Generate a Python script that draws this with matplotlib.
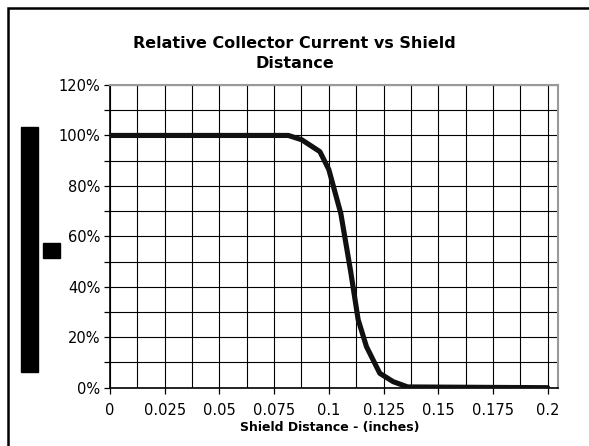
import matplotlib
matplotlib.use('Agg')
import matplotlib.pyplot as plt
from matplotlib.patches import Rectangle
from matplotlib.ticker import MultipleLocator, FuncFormatter

# shield distance (inches) vs relative collector current (%)
distance = [0, 0.0815, 0.0876, 0.0959, 0.1, 0.1055, 0.110, 0.1134, 0.1172,
            0.1233, 0.1294, 0.136, 0.2]
current = [100, 100, 98.3, 93.6, 86.5, 69, 46, 27, 16.3, 5.7, 2.4, 0.3, 0]

title = 'Relative Collector Current vs Shield\nDistance'
xlabel = 'Shield Distance - (inches)'
xticks = [0, 0.025, 0.05, 0.075, 0.1, 0.125, 0.15, 0.175, 0.2]
xtick_labels = ['0', '0.025', '0.05', '0.075', '0.1', '0.125', '0.15', '0.175', '0.2']

fig = plt.figure(figsize=(5.89, 4.46), dpi=100)
ax = fig.add_axes([110 / 589, 1 - 387.7 / 446, 447.7 / 589, 302.7 / 446])

ax.plot(distance, current, color='#111111', linewidth=3.7, solid_capstyle='round',
        solid_joinstyle='round', zorder=3)

ax.set_xlim(0, 0.2046)
ax.set_ylim(0, 120)

ax.set_xticks(xticks)
ax.set_xticklabels(xtick_labels)
ax.xaxis.set_minor_locator(MultipleLocator(0.0125))
ax.yaxis.set_major_locator(MultipleLocator(20))
ax.yaxis.set_minor_locator(MultipleLocator(10))
ax.yaxis.set_major_formatter(FuncFormatter(lambda v, p: '%d%%' % v))

ax.grid(True, which='both', color='black', linewidth=0.8)
ax.tick_params(axis='both', which='major', labelsize=10.5, length=4, width=0.9, direction='out')
ax.tick_params(axis='y', which='minor', length=4, width=0.9)
ax.tick_params(axis='x', which='minor', length=0)
ax.tick_params(axis='x', pad=7)
ax.tick_params(axis='y', pad=3)

for side in ['top', 'right']:
    ax.spines[side].set_color('#999999')
    ax.spines[side].set_linewidth(1.5)
for side in ['left', 'bottom']:
    ax.spines[side].set_color('black')
    ax.spines[side].set_linewidth(1.2)

fig.text(294.5 / 589, 1 - 53.5 / 446, title, ha='center', va='center',
         fontsize=11.5, fontweight='bold', linespacing=1.35)
fig.text(330 / 589, 1 - 428 / 446, xlabel, ha='center', va='center',
         fontsize=9, fontweight='bold')

# redacted y-axis label blocks
fig.patches.append(Rectangle((21 / 589, 1 - 371.7 / 446), 17 / 589, 245 / 446,
                             transform=fig.transFigure, color='black'))
fig.patches.append(Rectangle((43.3 / 589, 1 - 257.7 / 446), 16.7 / 589, 15 / 446,
                             transform=fig.transFigure, color='black'))

# outer chart frame
fig.patches.append(Rectangle((8 / 589, -0.05), 1.0, 1 - 8 / 446 + 0.05,
                             transform=fig.transFigure, fill=False,
                             edgecolor='black', linewidth=1.8))

fig.savefig('out.png', dpi=100)
